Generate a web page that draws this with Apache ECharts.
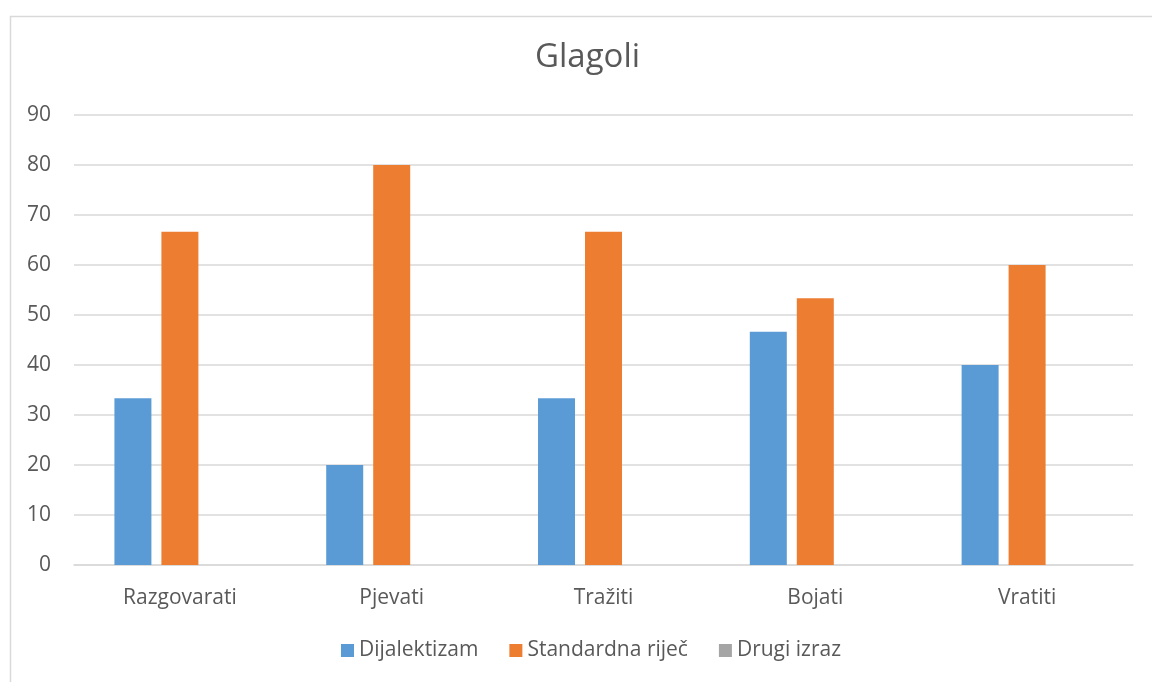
<!DOCTYPE html>
<html>
<head>
<meta charset="utf-8">
<script src="https://cdn.jsdelivr.net/npm/echarts@6/dist/echarts.min.js"></script>
<style>
html, body {margin: 0; padding: 0; background: #fff;}
#chart {width: 1152px; height: 682px;}
</style>
</head>
<body>
<div id="chart"></div>
<script>
const categories = ['Razgovarati', 'Pjevati', 'Tražiti', 'Bojati', 'Vratiti'];
const dijalektizam = [33.33, 20, 33.33, 46.67, 40];
const standardna = [66.67, 80, 66.67, 53.33, 60];
const drugiIzraz = [0, 0, 0, 0, 0];
const seriesNames = ['Dijalektizam', 'Standardna riječ', 'Drugi izraz'];

const font = '"Open Sans", "Liberation Sans", sans-serif';
const textColor = '#595959';

const chart = echarts.init(document.getElementById('chart'), null, {renderer: 'canvas'});

const barStyle = (color) => ({
    type: 'bar',
    barWidth: 37,
    barGap: '27%',
    itemStyle: {color},
    emphasis: {disabled: true}
});

chart.setOption({
    animation: false,
    textStyle: {fontFamily: font},
    title: {
        text: 'Glagoli',
        left: 530,
        top: 36,
        textStyle: {fontFamily: font, fontSize: 33, fontWeight: 'normal', color: textColor}
    },
    graphic: [{
        type: 'rect',
        shape: {x: 10.5, y: 16.5, width: 1160, height: 700},
        style: {fill: 'none', stroke: '#d9d9d9', lineWidth: 1.5},
        silent: true
    }],
    legend: {
        data: seriesNames,
        bottom: 16,
        left: 336,
        itemWidth: 13,
        itemHeight: 13,
        itemGap: 31,
        icon: 'rect',
        textStyle: {fontFamily: font, fontSize: 21, color: textColor}
    },
    grid: {left: 74, right: 19, top: 115, bottom: 117},
    xAxis: {
        type: 'category',
        data: categories,
        axisLine: {lineStyle: {color: '#d9d9d9', width: 1.5}},
        axisTick: {show: false},
        axisLabel: {fontFamily: font, fontSize: 21, color: textColor, margin: 23}
    },
    yAxis: {
        type: 'value',
        min: 0,
        max: 90,
        interval: 10,
        axisLine: {show: false},
        axisTick: {show: false},
        splitLine: {lineStyle: {color: '#d9d9d9', width: 1.5}},
        axisLabel: {fontFamily: font, fontSize: 21, color: textColor, margin: 23}
    },
    series: [
        Object.assign({name: seriesNames[0], data: dijalektizam}, barStyle('#5b9bd5')),
        Object.assign({name: seriesNames[1], data: standardna}, barStyle('#ed7d31')),
        Object.assign({name: seriesNames[2], data: drugiIzraz}, barStyle('#a5a5a5'))
    ]
});
</script>
</body>
</html>
